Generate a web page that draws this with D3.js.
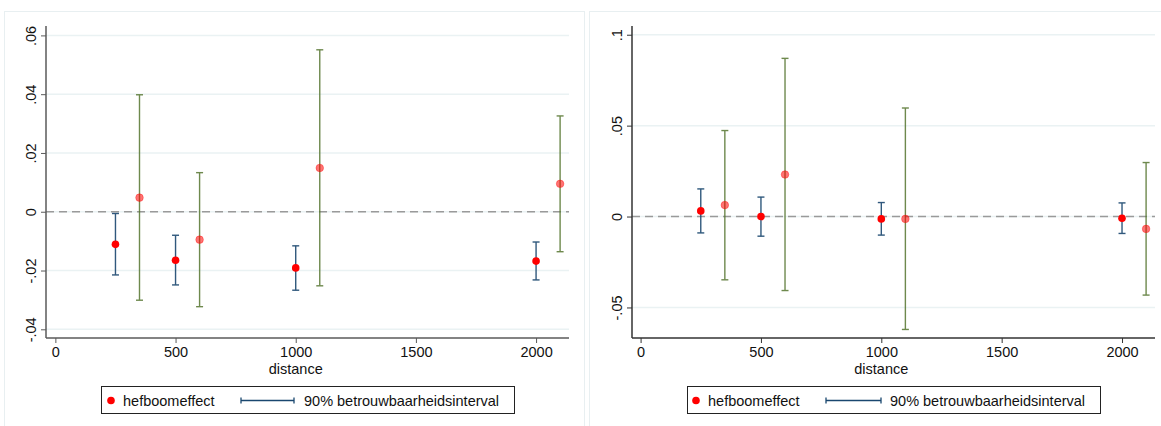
<!DOCTYPE html>
<html><head><meta charset="utf-8">
<script src="https://cdn.jsdelivr.net/npm/d3@7"></script>
<style>body{margin:0;background:#fff;} svg{display:block;font-family:"Liberation Sans",Arial,sans-serif;}</style>
</head><body><svg id="c" width="1161" height="426"></svg>
<script>
// ---- data ----
const blueDistance = [250, 500, 1000, 2000];
const greenDistance = [350, 600, 1100, 2100];
const xTicks = [0, 500, 1000, 1500, 2000];

// left panel
const leftBlueEst = [-0.0111, -0.0165, -0.0191, -0.0168];
const leftBlueLo  = [-0.0215, -0.0249, -0.0267, -0.0232];
const leftBlueHi  = [-0.0006, -0.0080, -0.0116, -0.0103];
const leftGreenEst = [0.0048, -0.0095, 0.0149, 0.0095];
const leftGreenLo  = [-0.0301, -0.0323, -0.0252, -0.0136];
const leftGreenHi  = [0.0398, 0.0133, 0.0551, 0.0326];
const leftYTicks = [-0.04, -0.02, 0, 0.02, 0.04, 0.06];
const leftYLabels = ["-.04", "-.02", "0", ".02", ".04", ".06"];

// right panel
const rightBlueEst = [0.0031, 0.0000, -0.0013, -0.0009];
const rightBlueLo  = [-0.0090, -0.0108, -0.0102, -0.0093];
const rightBlueHi  = [0.0152, 0.0107, 0.0077, 0.0075];
const rightGreenEst = [0.0063, 0.0231, -0.0013, -0.0068];
const rightGreenLo  = [-0.0348, -0.0407, -0.0621, -0.0432];
const rightGreenHi  = [0.0473, 0.0870, 0.0597, 0.0297];
const rightYTicks = [-0.05, 0, 0.05, 0.1];
const rightYLabels = ["-.05", "0", ".05", ".1"];

const legendLabels = ["hefboomeffect", "90% betrouwbaarheidsinterval"];
const xTitle = "distance";

// ---- drawing ----
const svg = d3.select("#c");
const BLUE = "#1a476f", GREEN = "#55752f", RED = "#ff0000";
const FS = 14.5;

const panels = [
  {frame:[4, 11, 580, 430], plot:{l:46, t:26, r:569, b:338}, xd:[-39, 2137], yd:[-0.04296, 0.0632], yTicks:leftYTicks, yLabels:leftYLabels, axisCol:"#5a5a5a",
   blue:{est:leftBlueEst, lo:leftBlueLo, hi:leftBlueHi}, green:{est:leftGreenEst, lo:leftGreenLo, hi:leftGreenHi},
   legend:{x1:101, x2:514, dot:111, t1:123, l1:241, l2:294, t2:304}},
  {frame:[589, 11, 590, 430], plot:{l:632, t:26, r:1155, b:338}, xd:[-35.7, 2137], yd:[-0.0668, 0.1048], yTicks:rightYTicks, yLabels:rightYLabels, axisCol:"#333",
   blue:{est:rightBlueEst, lo:rightBlueLo, hi:rightBlueHi}, green:{est:rightGreenEst, lo:rightGreenLo, hi:rightGreenHi},
   legend:{x1:687, x2:1100, dot:696, t1:708, l1:826, l2:881, t2:890}}
];

panels.forEach(p => {
  const g = svg.append("g");
  g.append("rect").attr("x", p.frame[0]+0.5).attr("y", p.frame[1]+0.5).attr("width", p.frame[2]).attr("height", p.frame[3])
    .attr("fill", "none").attr("stroke", "#e8eff1").attr("stroke-width", 1);
  const x = d3.scaleLinear().domain(p.xd).range([p.plot.l, p.plot.r]);
  const y = d3.scaleLinear().domain(p.yd).range([p.plot.b, p.plot.t]);

  // gridlines
  g.append("g").selectAll("line").data(p.yTicks).join("line")
    .attr("x1", p.plot.l).attr("x2", p.plot.r).attr("y1", d => y(d)).attr("y2", d => y(d))
    .attr("stroke", "#eaf2f3").attr("stroke-width", 1.5);

  // zero dashed line
  g.append("line").attr("x1", p.plot.l).attr("x2", p.plot.r).attr("y1", y(0)).attr("y2", y(0))
    .attr("stroke", "#9a9a9a").attr("stroke-width", 1.5).attr("stroke-dasharray", "8,5");

  // axes
  const ya = d3.axisLeft(y).tickValues(p.yTicks).tickFormat((d,i) => p.yLabels[i]).tickSize(5).tickPadding(4);
  const yg = g.append("g").attr("transform", `translate(${p.plot.l},0)`).call(ya);
  yg.select(".domain").attr("d", `M0,${p.plot.t}V${p.plot.b}`);
  yg.selectAll("text").attr("transform", "rotate(-90)")
    .attr("x", 0).attr("y", -10).attr("dy", 0).attr("text-anchor", "middle");
  const xa = d3.axisBottom(x).tickValues(xTicks).tickFormat(d3.format("d")).tickSize(5).tickPadding(3);
  const xg = g.append("g").attr("transform", `translate(0,${p.plot.b})`).call(xa);
  xg.select(".domain").attr("d", `M${p.plot.l},0H${p.plot.r}`);
  [yg, xg].forEach(a => {
    a.select(".domain").attr("stroke", p.axisCol).attr("stroke-width", 1.5);
    a.selectAll(".tick line").attr("stroke", p.axisCol).attr("stroke-width", 1);
    a.selectAll("text").attr("font-size", FS).attr("fill", "#111").attr("font-family", '"Liberation Sans",Arial,sans-serif');
  });
  xg.selectAll("text").attr("dy", "0.75em");
  g.append("text").attr("x", (x(0)+x(2000))/2).attr("y", 374).attr("text-anchor", "middle")
    .attr("font-size", FS).attr("fill", "#111").text(xTitle);

  // CIs
  const drawCI = (dist, s, col, op) => {
    const cg = g.append("g").attr("stroke", col).attr("stroke-width", 1.4).attr("opacity", op);
    dist.forEach((d, i) => {
      const xx = x(d);
      cg.append("line").attr("x1", xx).attr("x2", xx).attr("y1", y(s.lo[i])).attr("y2", y(s.hi[i]));
      cg.append("line").attr("x1", xx-3.5).attr("x2", xx+3.5).attr("y1", y(s.lo[i])).attr("y2", y(s.lo[i]));
      cg.append("line").attr("x1", xx-3.5).attr("x2", xx+3.5).attr("y1", y(s.hi[i])).attr("y2", y(s.hi[i]));
    });
  };
  drawCI(blueDistance, p.blue, BLUE, 0.9);
  drawCI(greenDistance, p.green, GREEN, 0.85);
  g.append("g").selectAll("circle").data(blueDistance).join("circle")
    .attr("cx", d => x(d)).attr("cy", (d,i) => y(p.blue.est[i])).attr("r", 3.8).attr("fill", RED);
  g.append("g").selectAll("circle").data(greenDistance).join("circle")
    .attr("cx", d => x(d)).attr("cy", (d,i) => y(p.green.est[i])).attr("r", 3.8)
    .attr("fill", RED).attr("fill-opacity", 0.55).attr("stroke", RED).attr("stroke-opacity", 0.35);

  // legend
  const L = p.legend, ly = 400.5;
  g.append("rect").attr("x", L.x1+0.5).attr("y", 386.5).attr("width", L.x2-L.x1).attr("height", 27)
    .attr("fill", "#fff").attr("stroke", "#222").attr("stroke-width", 1);
  g.append("circle").attr("cx", L.dot).attr("cy", ly).attr("r", 3.8).attr("fill", RED);
  g.append("text").attr("x", L.t1).attr("y", ly+5).attr("font-size", FS).attr("fill", "#111").text(legendLabels[0]);
  const lg = g.append("g").attr("stroke", BLUE).attr("stroke-width", 1.3);
  lg.append("line").attr("x1", L.l1).attr("x2", L.l2).attr("y1", ly).attr("y2", ly);
  lg.append("line").attr("x1", L.l1).attr("x2", L.l1).attr("y1", ly-3).attr("y2", ly+3);
  lg.append("line").attr("x1", L.l2).attr("x2", L.l2).attr("y1", ly-3).attr("y2", ly+3);
  g.append("text").attr("x", L.t2).attr("y", ly+5).attr("font-size", FS).attr("fill", "#111").text(legendLabels[1]);
});
</script></body></html>
